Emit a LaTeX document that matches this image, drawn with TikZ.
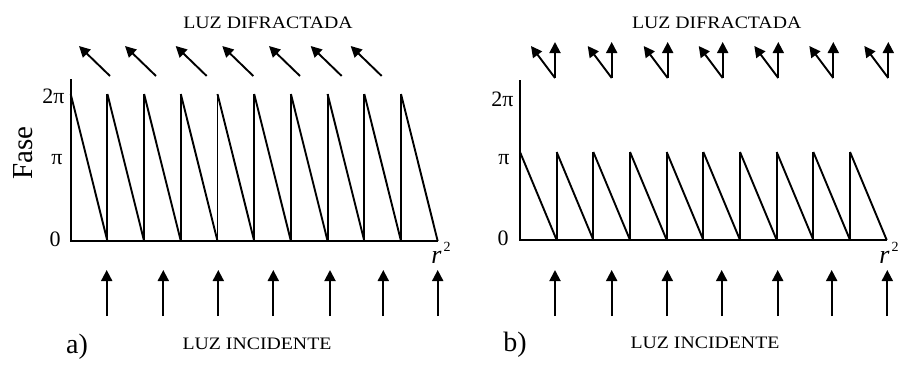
\documentclass[tikz,border=0pt]{standalone}
\usepackage{fontspec}
\setmainfont{Liberation Serif}
\usetikzlibrary{arrows.meta}
\tikzset{
  ln/.style={line width=1.9pt, line join=miter},
  arr/.style={line width=1.9pt, -{Triangle[length=11pt,width=11pt]}},
  caplbl/.style={inner sep=0pt, font=\fontsize{17.5}{20}\selectfont},
  ticklbl/.style={inner sep=0pt, font=\fontsize{22}{24}\selectfont},
  panellbl/.style={inner sep=0pt, font=\fontsize{28}{32}\selectfont},
  axlbl/.style={inner sep=0pt, font=\fontsize{26}{28}\selectfont\itshape}
}
\begin{document}
\begin{tikzpicture}[x=1pt,y=-1pt]
\useasboundingbox (0,0) rectangle (911,365);
% ---------------- panel a ----------------
\def\xa{70.7}\def\pa{36.7}\def\ba{241}\def\ta{94}
\draw[ln] (\xa,79) -- (\xa,\ba) -- (\xa+10*\pa,\ba);
\foreach \i in {1,...,9}{\draw[ln] (\xa+\i*\pa,\ba) -- (\xa+\i*\pa,\ta);}
\foreach \i in {0,...,9}{\draw[ln] (\xa+\i*\pa,\ta) -- (\xa+\i*\pa+\pa,\ba);}
\node[ticklbl] (a2pi) at (53.5,96) {2π};
\node[ticklbl] (api) at (57,160) {π};
\node[ticklbl] (a0) at (55,239) {0};
\node[axlbl] (ar) at (441,253) {r\raisebox{0.45em}{\fontsize{14}{16}\selectfont\upshape\,2}};
\node[inner sep=0pt, font=\fontsize{29}{32}\selectfont, rotate=90] (fase) at (23,153) {Fase};
\node[caplbl] (adif) at (268,23) {\scalebox{1.13}[1]{LUZ DIFRACTADA}};
\node[caplbl] (ainc) at (257,344) {\scalebox{1.13}[1]{LUZ INCIDENTE}};
\node[panellbl] (alab) at (77,347) {a)};
\foreach \x [count=\k] in {110,156,206.7,253.3,300,341.7,381.7}{
  \coordinate (ad\k s) at (\x,76);
  \coordinate (ad\k e) at (\x-31,46);
  \draw[arr] (ad\k s) -- (ad\k e);
}
\foreach \x [count=\k] in {106.7,163.3,218.3,273.3,330,383.3,437.7}{
  \coordinate (ai\k s) at (\x,316);
  \coordinate (ai\k e) at (\x,270);
  \draw[arr] (ai\k s) -- (ai\k e);
}
% ---------------- panel b ----------------
\def\xb{520}\def\pb{36.67}\def\bb{240}\def\tb{152}
\draw[ln] (\xb,80) -- (\xb,\bb) -- (\xb+10*\pb,\bb);
\foreach \i in {1,...,9}{\draw[ln] (\xb+\i*\pb,\bb) -- (\xb+\i*\pb,\tb);}
\foreach \i in {0,...,9}{\draw[ln] (\xb+\i*\pb,\tb) -- (\xb+\i*\pb+\pb,\bb);}
\node[ticklbl] (b2pi) at (502.5,99) {2π};
\node[ticklbl] (bpi) at (504,160) {π};
\node[ticklbl] (b0) at (503,238) {0};
\node[axlbl] (br) at (889,253) {r\raisebox{0.45em}{\fontsize{14}{16}\selectfont\upshape\,2}};
\node[caplbl] (bdif) at (716.7,23) {\scalebox{1.13}[1]{LUZ DIFRACTADA}};
\node[caplbl] (binc) at (705,343) {\scalebox{1.13}[1]{LUZ INCIDENTE}};
\node[panellbl] (blab) at (515,345) {b)};
\foreach \x [count=\k] in {555,611.7,667.7,722.7,778.3,833.3,888.3}{
  \coordinate (bv\k) at (\x,78);
  \coordinate (bu\k) at (\x,42);
  \coordinate (bd\k) at (\x-24,46);
  \draw[arr] (bv\k) -- (bu\k);
  \draw[arr] (bv\k) -- (bd\k);
}
\foreach \x [count=\k] in {555,611.7,667.3,721.7,777.7,831.7,887.3}{
  \coordinate (bi\k s) at (\x,316);
  \coordinate (bi\k e) at (\x,270);
  \draw[arr] (bi\k s) -- (bi\k e);
}
\end{tikzpicture}
\end{document}
